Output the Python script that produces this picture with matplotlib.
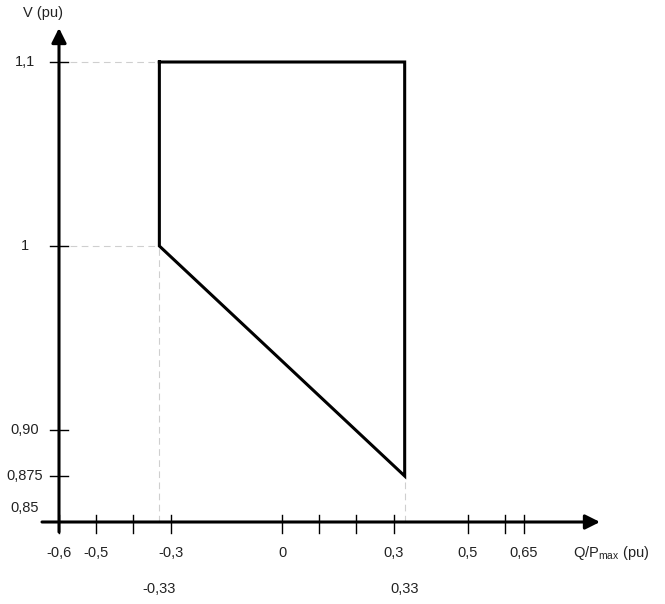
import matplotlib
matplotlib.use('Agg')
import matplotlib.pyplot as plt

plt.rcParams['font.family'] = ['Liberation Sans', 'DejaVu Sans']
plt.rcParams['mathtext.fontset'] = 'custom'
plt.rcParams['mathtext.rm'] = 'Liberation Sans'

# operating region (Q/Pmax, V)
region_q = [-0.33, 0.33, 0.33, -0.33, -0.33]
region_v = [1.1, 1.1, 0.875, 1.0, 1.1]

# axis ticks
x_ticks = [-0.6, -0.5, -0.4, -0.3, 0, 0.1, 0.2, 0.3, 0.5, 0.6, 0.65]
x_label_pos = [-0.6, -0.5, -0.3, 0, 0.3, 0.5, 0.65]
x_label_txt = ['-0,6', '-0,5', '-0,3', '0', '0,3', '0,5', '0,65']
x_label2_pos = [-0.33, 0.33]
x_label2_txt = ['-0,33', '0,33']
y_ticks = [0.875, 0.9, 1.0, 1.1]
y_label_txt = ['0,875', '0,90', '1', '1,1']

q0 = -0.6   # where the V axis sits
v0 = 0.85   # where the Q axis sits

# pixel scale of the original drawing
px_x = 371.7
px_y = 1840.0

fig = plt.figure(figsize=(6.65, 6.04), dpi=100)
ax = fig.add_axes([0, 0, 1, 1])
ax.set_xlim(q0 - 59 / px_x, q0 + (665 - 59) / px_x)
ax.set_ylim(v0 - 82 / px_y, v0 + 522 / px_y)
ax.axis('off')

txt_col = '#222222'
grid_col = '#cfcfcf'

# guide lines
ax.plot([q0, -0.33], [1.1, 1.1], ls=(0, (6, 4)), color=grid_col, lw=0.8)
ax.plot([q0, -0.33], [1.0, 1.0], ls=(0, (6, 4)), color=grid_col, lw=0.8)
ax.plot([-0.33, -0.33], [v0, 1.0], ls=(0, (6, 4)), color=grid_col, lw=0.8)
ax.plot([0.33, 0.33], [v0, 0.875], ls=(0, (6, 4)), color=grid_col, lw=0.8)

# axes with arrows
ax.annotate('', xy=(q0 + 541 / px_x, v0), xytext=(q0 - 17 / px_x, v0),
            arrowprops=dict(arrowstyle='-|>', lw=2.2, color='black',
                            mutation_scale=22, shrinkA=0, shrinkB=0))
ax.annotate('', xy=(q0, v0 + 494 / px_y), xytext=(q0, v0 - 10 / px_y),
            arrowprops=dict(arrowstyle='-|>', lw=2.2, color='black',
                            mutation_scale=22, shrinkA=0, shrinkB=0))

# ticks
for t in x_ticks:
    ax.plot([t, t], [v0 - 11 / px_y, v0 + 7 / px_y], color='black', lw=1.0)
for t in y_ticks:
    ax.plot([q0 - 9 / px_x, q0 + 9 / px_x], [t, t], color='black', lw=1.0)

# tick labels
for p, s in zip(x_label_pos, x_label_txt):
    ax.text(p, v0 - 31 / px_y, s, ha='center', va='center', fontsize=10.5, color=txt_col)
for p, s in zip(x_label2_pos, x_label2_txt):
    ax.text(p, v0 - 67 / px_y, s, ha='center', va='center', fontsize=10.5, color=txt_col)
for p, s in zip(y_ticks, y_label_txt):
    ax.text(q0 - 34 / px_x, p, s, ha='center', va='center', fontsize=10.5, color=txt_col)
ax.text(q0 - 34 / px_x, v0 + 14 / px_y, '0,85', ha='center', va='center', fontsize=10.5, color=txt_col)

# axis titles
ax.text(q0 - 16 / px_x, v0 + 509 / px_y, 'V (pu)', ha='center', va='center', fontsize=10.5, color=txt_col)
ax.text(q0 + 514 / px_x, v0 - 31 / px_y, r'Q/P$_{\mathrm{max}}$ (pu)', ha='left', va='center',
        fontsize=10.5, color=txt_col)

# operating region
ax.plot(region_q, region_v, color='black', lw=2.2, solid_joinstyle='miter')

fig.savefig('out.png', dpi=100)
